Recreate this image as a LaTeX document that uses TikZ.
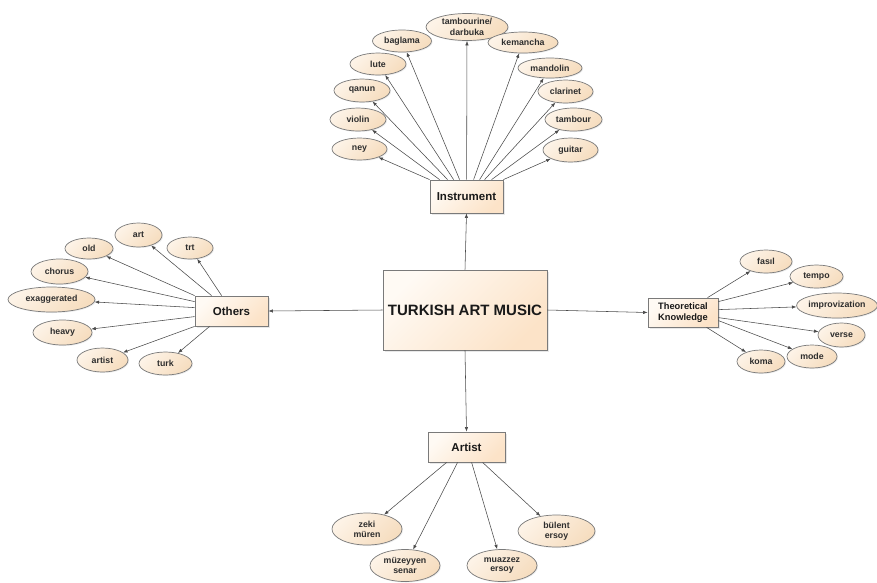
\documentclass[tikz,border=0pt]{standalone}
\usepackage{fontspec}
\setmainfont{Liberation Sans}
\usetikzlibrary{arrows.meta,shadows,shapes.geometric}
\definecolor{boxlight}{HTML}{FFFAF4}
\definecolor{boxdark}{HTML}{FCE3C8}
\definecolor{elltop}{HTML}{FDF3E7}
\definecolor{ellbot}{HTML}{F6DDBF}
\definecolor{edge}{HTML}{7A7A7A}
\definecolor{linec}{HTML}{4A4A4A}
\tikzset{
  fs/.style={font=\fontsize{#1}{#1}\selectfont\bfseries},
  boxnode/.style={draw=edge, line width=0.8pt, rectangle, inner sep=0pt,
    left color=boxlight, right color=boxdark, shading angle=45,
    drop shadow={opacity=0.18, shadow xshift=1.5pt, shadow yshift=-1.5pt},
    align=center, text=black!90},
  ellnode/.style={draw=edge, line width=0.7pt, ellipse, inner sep=0pt,
    left color=elltop, right color=ellbot, shading angle=45,
    drop shadow={opacity=0.15, shadow xshift=1pt, shadow yshift=-1pt},
    align=center, fs=8.8, text=black!82},
  conn/.style={draw=linec, line width=0.55pt, -{Latex[length=4.5pt,width=3.4pt]}},
}
\begin{document}
\begin{tikzpicture}[x=1pt,y=-1pt]
\useasboundingbox (0,0) rectangle (877,582);
\fill[white] (0,0) rectangle (877,582);
% central and category boxes
\node[boxnode, minimum width=164pt, minimum height=80pt, fs=15] (main) at (465,310) {TURKISH ART MUSIC};
\node[boxnode, minimum width=73pt, minimum height=33pt, fs=11.5] (inst) at (466.5,196.5) {Instrument};
\node[boxnode, minimum width=73pt, minimum height=30pt, fs=11.5] (oth) at (231.5,311) {Others};
\node[boxnode, minimum width=70pt, minimum height=29pt, fs=9.3] (tk) at (683,312.5) {Theoretical\\[1pt]Knowledge};
\node[boxnode, minimum width=77pt, minimum height=30pt, fs=11.5] (art) at (466.5,447) {Artist};
% instrument ellipses
\node[ellnode, minimum width=82pt, minimum height=27pt] (tamb) at (467,27) {tambourine/\\[2pt]darbuka};
\node[ellnode, minimum width=59pt, minimum height=22pt] (bag) at (402,41) {baglama};
\node[ellnode, minimum width=56pt, minimum height=22pt] (lute) at (378,64) {lute};
\node[ellnode, minimum width=56pt, minimum height=23pt] (qan) at (362,90.5) {qanun};
\node[ellnode, minimum width=56pt, minimum height=23pt] (vio) at (358,119.5) {violin};
\node[ellnode, minimum width=55pt, minimum height=22pt] (ney) at (359.5,149) {ney};
\node[ellnode, minimum width=70pt, minimum height=21pt] (kem) at (523,42.5) {kemancha};
\node[ellnode, minimum width=64pt, minimum height=20pt] (man) at (550,68) {mandolin};
\node[ellnode, minimum width=55pt, minimum height=23pt] (cla) at (565.5,91.5) {clarinet};
\node[ellnode, minimum width=57pt, minimum height=23pt] (tbr) at (573.5,119.5) {tambour};
\node[ellnode, minimum width=55pt, minimum height=24pt] (gui) at (570.5,150) {guitar};
% others ellipses
\node[ellnode, minimum width=48pt, minimum height=21pt] (old) at (89,248.5) {old};
\node[ellnode, minimum width=47pt, minimum height=24pt] (arto) at (138.5,235) {art};
\node[ellnode, minimum width=46pt, minimum height=22pt] (trt) at (190,248) {trt};
\node[ellnode, minimum width=57pt, minimum height=25pt] (cho) at (59.5,271.5) {chorus};
\node[ellnode, minimum width=87pt, minimum height=25pt] (exa) at (51.5,299.5) {exaggerated};
\node[ellnode, minimum width=59pt, minimum height=25pt] (hea) at (62.5,332.5) {heavy};
\node[ellnode, minimum width=51pt, minimum height=24pt] (arti) at (102.5,360) {artist};
\node[ellnode, minimum width=53pt, minimum height=23pt] (turk) at (165.5,363.5) {turk};
% theoretical knowledge ellipses
\node[ellnode, minimum width=52pt, minimum height=23pt] (fas) at (766,261.5) {fasıl};
\node[ellnode, minimum width=53pt, minimum height=23pt] (tem) at (816.5,276.5) {tempo};
\node[ellnode, minimum width=80pt, minimum height=25pt] (imp) at (837,305.5) {improvization};
\node[ellnode, minimum width=47pt, minimum height=24pt] (ver) at (841.5,335) {verse};
\node[ellnode, minimum width=50pt, minimum height=23pt] (mod) at (812,356.5) {mode};
\node[ellnode, minimum width=48pt, minimum height=23pt] (kom) at (761,361.5) {koma};
% artist ellipses
\node[ellnode, minimum width=70pt, minimum height=32pt] (zek) at (367,529) {zeki\\[1pt]müren};
\node[ellnode, minimum width=70pt, minimum height=32pt] (muz) at (405,565.5) {müzeyyen\\[1pt]senar};
\node[ellnode, minimum width=70pt, minimum height=32pt] (mua) at (502,565.5) {muazzez\\[1pt]ersoy};
\node[ellnode, minimum width=77pt, minimum height=32pt] (bul) at (556.5,531) {bülent\\[1pt]ersoy};
% main connectors
\draw[conn] (main.north) -- (inst.south);
\draw[conn] (main.south) -- (art.north);
\draw[conn] (main.west) -- (oth.east);
\draw[conn] (main.east) -- (tk.west);
% instrument connectors
\draw[conn] (inst.north west) -- (ney);
\draw[conn] ([xshift=10pt]inst.north west) -- (vio);
\draw[conn] ([xshift=18pt]inst.north west) -- (qan);
\draw[conn] ([xshift=24pt]inst.north west) -- (lute);
\draw[conn] ([xshift=30pt]inst.north west) -- (bag);
\draw[conn] ([xshift=37pt]inst.north west) -- (tamb);
\draw[conn] ([xshift=44pt]inst.north west) -- (kem);
\draw[conn] ([xshift=50pt]inst.north west) -- (man);
\draw[conn] ([xshift=55pt]inst.north west) -- (cla);
\draw[conn] ([xshift=62pt]inst.north west) -- (tbr);
\draw[conn] (inst.north east) -- (gui);
% others connectors
\draw[conn] (oth.north west) -- (old);
\draw[conn] ([xshift=17pt]oth.north west) -- (arto);
\draw[conn] ([xshift=27pt]oth.north west) -- (trt);
\draw[conn] ([yshift=-6pt]oth.north west) -- (cho);
\draw[conn] ([yshift=-12pt]oth.north west) -- (exa);
\draw[conn] ([yshift=-21pt]oth.north west) -- (hea);
\draw[conn] (oth.south west) -- (arti);
\draw[conn] ([xshift=15pt]oth.south west) -- (turk);
% theoretical connectors
\draw[conn] ([xshift=60pt]tk.north west) -- (fas);
\draw[conn] ([yshift=-4pt]tk.north east) -- (tem);
\draw[conn] ([yshift=-12pt]tk.north east) -- (imp);
\draw[conn] ([yshift=-20pt]tk.north east) -- (ver);
\draw[conn] ([yshift=-23pt]tk.north east) -- (mod);
\draw[conn] ([xshift=59pt]tk.south west) -- (kom);
% artist connectors
\draw[conn] ([xshift=19pt]art.south west) -- (zek);
\draw[conn] ([xshift=30pt]art.south west) -- (muz);
\draw[conn] ([xshift=44pt]art.south west) -- (mua);
\draw[conn] ([xshift=55pt]art.south west) -- (bul);
\end{tikzpicture}
\end{document}
